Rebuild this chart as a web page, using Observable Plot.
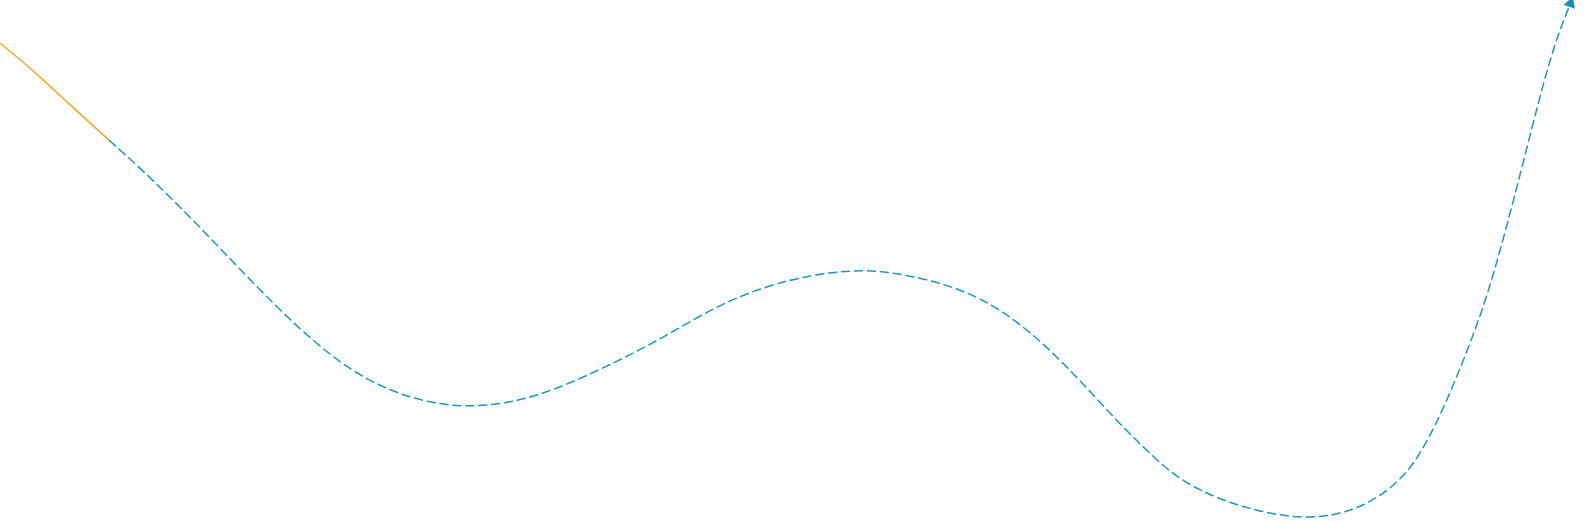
<!DOCTYPE html>
<html>
<head>
<meta charset="utf-8">
<script src="https://cdn.jsdelivr.net/npm/d3@7"></script>
<script src="https://cdn.jsdelivr.net/npm/@observablehq/plot@0.6"></script>
<style>
  html, body { margin: 0; padding: 0; background: #ffffff; }
  #chart svg { display: block; }
</style>
</head>
<body>
<div id="chart"></div>
<script>
// Solid (orange) lead-in segment
const leadX = [0, 33, 67, 100, 109];
const leadY = [43, 70, 102, 132, 140];

// Dashed (teal) projected path
const pathX = [109, 150, 200, 250, 300, 350, 400, 440, 468, 500, 547, 613, 663, 713, 763, 813, 850, 880, 930, 980, 1030, 1080, 1113, 1147, 1180, 1230, 1290, 1333, 1367, 1400, 1423, 1447, 1480, 1497, 1513, 1530, 1547, 1560, 1570];
const pathY = [140, 177, 227, 280, 330, 371, 395, 404, 406, 404, 393, 363, 337, 307, 286, 274, 270, 270, 279, 296, 330, 380, 417, 451, 481, 504, 518, 516, 504, 481, 449, 400, 317, 260, 200, 133, 67, 27, 3];

const lead = leadX.map((x, i) => ({x, y: leadY[i]}));
const path = pathX.map((x, i) => ({x, y: pathY[i]}));
const tip = [path[path.length - 1]];

const chart = Plot.plot({
  width: 1589,
  height: 522,
  margin: 0,
  x: {domain: [0, 1589], axis: null},
  y: {domain: [0, 522], reverse: true, axis: null},
  marks: [
    Plot.line(lead, {x: "x", y: "y", stroke: "#f7a928", strokeWidth: 1.6, curve: "basis"}),
    Plot.line(path, {x: "x", y: "y", stroke: "#1a98c0", strokeWidth: 1.5, strokeDasharray: "8,5", curve: "basis"}),
    Plot.dot(tip, {x: "x", y: "y", symbol: "triangle", r: 4.5, fill: "#1690b8", stroke: "none", rotate: 20})
  ]
});
document.getElementById("chart").append(chart);
</script>
</body>
</html>
